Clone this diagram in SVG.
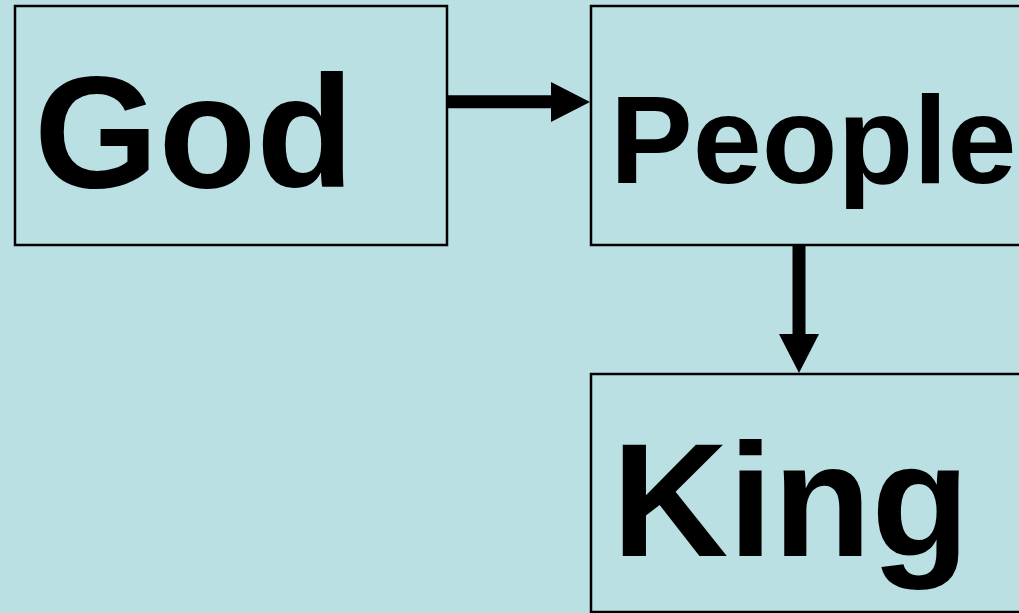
<svg xmlns="http://www.w3.org/2000/svg" width="1019" height="613" viewBox="0 0 1019 613">
<style>
.box{fill:#BAE0E4;stroke:#000;stroke-width:2.5}
.lbl{font-family:"Liberation Sans",Arial,sans-serif;font-weight:bold;fill:#000}
.conn{stroke:#000;stroke-width:13;fill:none}
.head{fill:#000}
</style>
<rect x="0" y="0" width="1019" height="613" fill="#BAE0E4"/>
<g id="god">
<rect class="box" x="15" y="6" width="432" height="239"/>
<text class="lbl" x="34" y="187" font-size="160">God</text>
</g>
<g id="people">
<rect class="box" x="591" y="6" width="440" height="239"/>
<text class="lbl" x="610" y="183" font-size="124">People</text>
</g>
<g id="king">
<rect class="box" x="591" y="374" width="440" height="238"/>
<text class="lbl" x="612" y="556" font-size="161">King</text>
</g>
<g id="connectors">
<line class="conn" x1="447" y1="101.7" x2="552" y2="101.7"/>
<polygon class="head" points="551,82 590,102 551,122"/>
<line class="conn" x1="799" y1="245" x2="799" y2="335"/>
<polygon class="head" points="779,334 819,334 799,373"/>
</g>
</svg>
